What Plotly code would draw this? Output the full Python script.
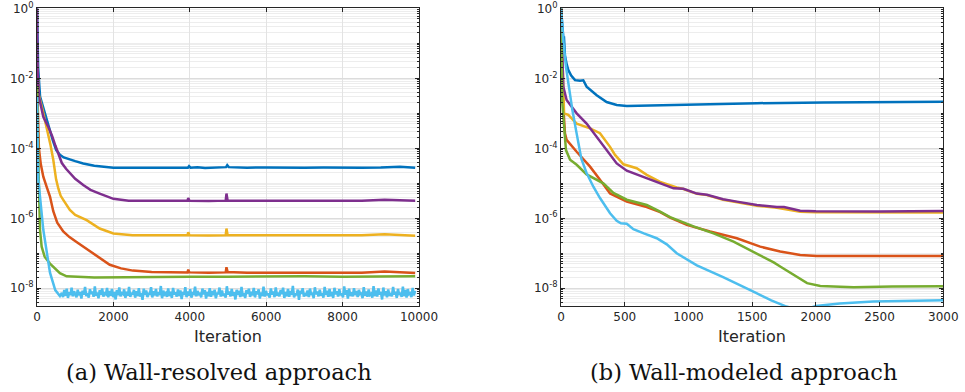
import numpy as np
import plotly.graph_objects as go

# ---------------- (a) Wall-resolved approach ----------------
wr_blue_it = [0, 30, 80, 200, 340, 420, 500, 600, 700, 850, 1000, 1210, 1500, 2000, 2500, 3000, 3500, 3950, 3980,
              4020, 4200, 4400, 4950, 4980, 5020, 5500, 6000, 6500, 7000, 7500, 8000, 8500, 9000, 9500, 9900]
wr_blue = [1.0, 2e-2, 3e-3, 1e-3, 3.3e-4, 1.6e-4, 9e-5, 6.5e-5, 5.5e-5, 4.8e-5, 4.3e-5, 3.7e-5, 3.2e-5, 2.8e-5,
           2.8e-5, 2.75e-5, 2.8e-5, 2.8e-5, 3.1e-5, 2.8e-5, 2.9e-5, 2.75e-5, 2.9e-5, 3.3e-5, 2.9e-5, 2.8e-5, 2.85e-5,
           2.8e-5, 2.8e-5, 2.85e-5, 2.8e-5, 2.8e-5, 2.85e-5, 3.0e-5, 2.8e-5]

wr_orange_it = [0, 30, 50, 100, 165, 253, 340, 426, 530, 687, 850, 1035, 1250, 1470, 1700, 1905, 2200, 2513, 3000,
                3500, 3940, 3960, 3990, 4500, 4940, 4960, 4990, 5500, 6500, 7500, 8500, 9100, 9900]
wr_orange = [1e-2, 2e-4, 1e-4, 3.5e-5, 1.55e-5, 7.9e-6, 4.2e-6, 1.6e-6, 7.5e-7, 4.2e-7, 2.9e-7, 2.1e-7, 1.45e-7,
             1.0e-7, 6.5e-8, 4.7e-8, 3.7e-8, 3.2e-8, 2.9e-8, 2.8e-8, 2.85e-8, 3.4e-8, 2.85e-8, 2.8e-8, 2.85e-8,
             4.0e-8, 2.9e-8, 2.8e-8, 2.85e-8, 2.8e-8, 2.8e-8, 3.0e-8, 2.75e-8]

wr_yellow_it = [0, 50, 150, 253, 350, 426, 500, 560, 620, 700, 760, 860, 1000, 1300, 1640, 2000, 2500, 3000, 3500,
                3940, 3960, 3990, 4500, 4940, 4960, 4990, 5500, 6500, 7500, 8500, 9100, 9900]
wr_yellow = [3e-2, 3.3e-3, 1.2e-3, 4.2e-4, 1.3e-4, 4.7e-5, 1.3e-5, 7e-6, 4.4e-6, 3.2e-6, 2.6e-6, 1.74e-6, 1.25e-6,
             8.9e-7, 5.1e-7, 3.7e-7, 3.3e-7, 3.25e-7, 3.3e-7, 3.3e-7, 4.0e-7, 3.3e-7, 3.25e-7, 3.3e-7, 5.1e-7,
             3.3e-7, 3.3e-7, 3.25e-7, 3.3e-7, 3.3e-7, 3.5e-7, 3.2e-7]

wr_purple_it = [0, 15, 50, 165, 300, 400, 480, 560, 650, 760, 860, 1000, 1210, 1400, 1640, 2000, 2400, 3000, 3500,
                3940, 3960, 3990, 4500, 4940, 4960, 4990, 5500, 6500, 7500, 8500, 9100, 9900]
wr_purple = [1.0, 2e-2, 3e-3, 8e-4, 4e-4, 2.2e-4, 1.2e-4, 6.5e-5, 3.8e-5, 2.6e-5, 1.95e-5, 1.35e-5, 8.9e-6, 6.5e-6,
             5.1e-6, 3.6e-6, 3.2e-6, 3.15e-6, 3.2e-6, 3.2e-6, 3.8e-6, 3.2e-6, 3.15e-6, 3.2e-6, 5.1e-6, 3.2e-6,
             3.2e-6, 3.15e-6, 3.2e-6, 3.2e-6, 3.4e-6, 3.2e-6]

wr_green_it = [0, 20, 45, 78, 122, 200, 340, 600, 775, 1500, 2200, 3000, 4000, 5000, 6000, 7000, 8000, 9000, 9900]
wr_green = [6e-3, 2e-4, 1.5e-5, 4.7e-7, 1.55e-7, 8e-8, 5.1e-8, 2.7e-8, 2.2e-8, 2.05e-8, 2.1e-8, 2.15e-8, 2.15e-8,
            2.15e-8, 2.2e-8, 2.2e-8, 2.15e-8, 2.2e-8, 2.2e-8]

wr_lblue_head_it = [0, 35, 165, 340, 478, 600]
wr_lblue_head = [3e-3, 1.26e-5, 4.7e-7, 2.8e-8, 8.9e-9, 6.0e-9]
wr_lblue_tail_start = 650
wr_lblue_tail_step = 32
wr_lblue_tail = [
    7.4e-9, 5.6e-9, 8.9e-9, 6.1e-9, 9.8e-9, 5.3e-9, 7.7e-9, 6.4e-9, 10.4e-9, 5.9e-9, 8.2e-9, 6.8e-9, 5.5e-9, 9.1e-9, 6.3e-9, 7.9e-9, 5.1e-9, 8.6e-9, 6.6e-9, 10.9e-9,
    6.0e-9, 7.3e-9, 5.4e-9, 9.4e-9, 6.9e-9, 8.1e-9, 5.7e-9, 11.3e-9, 6.2e-9, 7.6e-9, 5.2e-9, 8.8e-9, 6.5e-9, 9.9e-9, 5.8e-9, 7.1e-9, 6.7e-9, 10.2e-9, 5.5e-9, 8.4e-9,
    6.1e-9, 9.6e-9, 5.6e-9, 7.8e-9, 4.8e-9, 8.9e-9, 6.4e-9, 10.6e-9, 5.9e-9, 7.2e-9, 6.8e-9, 9.3e-9, 5.3e-9, 8.0e-9, 6.2e-9, 11.0e-9, 5.7e-9, 7.5e-9, 6.6e-9, 9.0e-9,
    5.4e-9, 8.3e-9, 6.0e-9, 10.1e-9, 5.8e-9, 7.4e-9, 4.7e-9, 9.7e-9, 6.5e-9, 8.6e-9, 5.6e-9, 7.0e-9, 6.9e-9, 10.7e-9, 5.5e-9, 8.2e-9, 6.3e-9, 9.5e-9, 5.9e-9, 7.7e-9,
    6.4e-9, 11.6e-9, 5.2e-9, 8.5e-9, 6.7e-9, 7.3e-9, 5.7e-9, 9.9e-9, 6.1e-9, 8.0e-9, 5.3e-9, 10.3e-9, 6.6e-9, 7.6e-9, 5.8e-9, 9.2e-9, 6.0e-9, 8.7e-9, 4.9e-9, 7.9e-9,
    6.5e-9, 10.8e-9, 5.6e-9, 8.1e-9, 6.2e-9, 9.4e-9, 5.4e-9, 7.2e-9, 6.9e-9, 11.1e-9, 5.9e-9, 8.4e-9, 6.3e-9, 7.5e-9, 5.5e-9, 9.8e-9, 6.7e-9, 8.9e-9, 5.1e-9, 7.8e-9,
    6.0e-9, 10.0e-9, 5.7e-9, 8.3e-9, 6.4e-9, 9.1e-9, 5.2e-9, 7.4e-9, 6.8e-9, 10.5e-9, 5.8e-9, 8.6e-9, 6.1e-9, 7.1e-9, 5.4e-9, 11.4e-9, 6.6e-9, 8.0e-9, 5.9e-9, 9.6e-9,
    6.2e-9, 7.7e-9, 4.8e-9, 9.0e-9, 6.5e-9, 8.5e-9, 5.6e-9, 10.9e-9, 6.0e-9, 7.3e-9, 5.3e-9, 8.8e-9, 6.9e-9, 9.7e-9, 5.7e-9, 7.9e-9, 6.3e-9, 10.2e-9, 5.5e-9, 8.2e-9,
    6.7e-9, 9.3e-9, 5.1e-9, 7.6e-9, 6.1e-9, 11.2e-9, 5.8e-9, 8.4e-9, 6.4e-9, 7.0e-9, 5.4e-9, 9.9e-9, 6.6e-9, 8.1e-9, 5.6e-9, 10.6e-9, 6.2e-9, 7.5e-9, 5.9e-9, 8.9e-9,
    6.8e-9, 10.4e-9, 5.3e-9, 7.8e-9, 6.0e-9, 9.5e-9, 5.7e-9, 8.3e-9, 6.5e-9, 11.7e-9, 5.5e-9, 7.2e-9, 6.3e-9, 9.2e-9, 4.7e-9, 8.6e-9, 6.9e-9, 10.0e-9, 5.8e-9, 7.4e-9,
    6.1e-9, 8.7e-9, 5.6e-9, 9.8e-9, 6.4e-9, 7.6e-9, 5.2e-9, 10.7e-9, 6.7e-9, 8.0e-9, 5.9e-9, 9.1e-9, 6.2e-9, 7.3e-9, 5.4e-9, 11.0e-9, 6.5e-9, 8.5e-9, 5.7e-9, 9.6e-9,
    6.0e-9, 7.9e-9, 5.3e-9, 10.3e-9, 6.8e-9, 8.2e-9, 5.8e-9, 9.4e-9, 6.3e-9, 7.1e-9, 5.5e-9, 11.3e-9, 6.6e-9, 8.8e-9, 5.1e-9, 9.7e-9, 6.1e-9, 7.7e-9, 5.9e-9, 10.1e-9,
    6.4e-9, 8.4e-9, 5.6e-9, 9.0e-9, 6.9e-9, 7.5e-9, 5.2e-9, 10.8e-9, 6.2e-9, 8.1e-9, 5.7e-9, 9.3e-9, 6.5e-9, 7.0e-9, 5.4e-9, 11.5e-9, 6.0e-9, 8.6e-9, 5.8e-9, 9.9e-9,
    6.7e-9, 7.8e-9, 4.8e-9, 10.5e-9, 6.3e-9, 8.3e-9, 5.5e-9, 9.2e-9, 6.1e-9, 7.4e-9, 5.9e-9, 10.9e-9, 6.6e-9, 8.0e-9, 5.3e-9, 9.6e-9, 6.4e-9, 7.6e-9, 5.7e-9, 11.1e-9,
    6.0e-9, 8.9e-9, 5.4e-9, 9.5e-9, 6.8e-9, 7.2e-9, 5.6e-9, 10.2e-9, 6.2e-9, 8.5e-9]

# ---------------- (b) Wall-modeled approach ----------------
wm_blue_it = [0, 8, 13, 18, 23, 28, 31, 45, 57, 80, 110, 149, 175, 201, 280, 358, 437, 516, 751, 1000, 1537, 2061,
              2500, 3000]
wm_blue = [1.0, 0.35, 0.24, 0.15, 0.16, 0.06, 0.045, 0.025, 0.0174, 0.012, 0.0089, 0.0085, 0.0088, 0.0058, 0.0033,
           0.0021, 0.00174, 0.00162, 0.0017, 0.00178, 0.00195, 0.00204, 0.0021, 0.00214]

wm_orange_it = [0, 10, 31, 44, 123, 228, 306, 385, 516, 673, 778, 856, 987, 1170, 1380, 1563, 1720, 1877, 2008,
                2500, 3000]
wm_orange = [1.0, 5e-3, 2.7e-4, 1.74e-4, 8e-5, 3e-5, 1.26e-5, 5.1e-6, 3.0e-6, 2.1e-6, 1.5e-6, 1.05e-6, 6.5e-7,
             4.2e-7, 2.7e-7, 1.55e-7, 1.12e-7, 9e-8, 8.4e-8, 8.3e-8, 8.4e-8]

wm_yellow_it = [0, 10, 24, 57, 123, 228, 306, 385, 424, 490, 594, 673, 778, 908, 961, 1066, 1145, 1272, 1380, 1537,
                1694, 1877, 2000, 2500, 3000]
wm_yellow = [1.0, 0.05, 1e-3, 9e-4, 5.1e-4, 3.7e-4, 2.7e-4, 1.1e-4, 6.5e-5, 3.5e-5, 2.7e-5, 1.74e-5, 1.1e-5, 7.6e-6,
             6.9e-6, 5.0e-6, 4.6e-6, 3.4e-6, 2.9e-6, 2.3e-6, 2.0e-6, 1.55e-6, 1.48e-6, 1.45e-6, 1.47e-6]

wm_purple_it = [0, 10, 18, 44, 123, 201, 280, 358, 437, 516, 646, 883, 961, 1066, 1145, 1272, 1380, 1537, 1694,
                1750, 1877, 2000, 2500, 3000]
wm_purple = [1.0, 0.1, 5.8e-3, 2.4e-3, 1e-3, 5.1e-4, 2.1e-4, 8.9e-5, 3.7e-5, 2.3e-5, 1.55e-5, 7.2e-6, 7.0e-6, 5.1e-6,
             4.7e-6, 3.5e-6, 3.0e-6, 2.4e-6, 2.1e-6, 2.1e-6, 1.65e-6, 1.58e-6, 1.57e-6, 1.62e-6]

wm_green_it = [0, 10, 39, 71, 123, 201, 332, 411, 516, 673, 778, 856, 1040, 1197, 1354, 1510, 1563, 1669, 1720,
               1826, 1931, 2035, 2296, 2600, 3000]
wm_green = [1.0, 2e-3, 8.9e-5, 4.7e-5, 3.4e-5, 1.8e-5, 1.0e-5, 5.3e-6, 3.4e-6, 2.4e-6, 1.55e-6, 1.08e-6, 5.9e-7,
            3.7e-7, 2.15e-7, 1.12e-7, 8.5e-8, 5.5e-8, 4.2e-8, 2.4e-8, 1.4e-8, 1.17e-8, 1.07e-8, 1.12e-8, 1.15e-8]

wm_lblue_it = [0, 20, 40, 60, 90, 120, 160, 200, 254, 306, 385, 437, 470, 516, 568, 650, 751, 830, 908, 1066, 1272,
               1510, 1650, 1760, 1880, 2000, 2188, 2450, 2700, 3000]
wm_lblue = [1.0, 0.1, 2e-2, 6e-3, 1.2e-3, 3e-4, 5e-5, 2e-5, 8e-6, 3.8e-6, 1.4e-6, 8.5e-7, 7.2e-7, 7.0e-7, 4.9e-7,
            3.7e-7, 2.7e-7, 1.8e-7, 1.0e-7, 4.5e-8, 2.1e-8, 8e-9, 4.5e-9, 3.1e-9, 2.3e-9, 3.1e-9, 3.7e-9, 4.2e-9,
            4.45e-9, 4.55e-9]

y_tickvals = [1, 1e-2, 1e-4, 1e-6, 1e-8]
y_ticktext = ["10<sup>0</sup>", "10<sup>-2</sup>", "10<sup>-4</sup>", "10<sup>-6</sup>", "10<sup>-8</sup>"]
wr_xticks = [0, 2000, 4000, 6000, 8000, 10000]
wr_xticktext = ["0", "2000", "4000", "6000", "8000", "10000"]
wm_xticks = [0, 500, 1000, 1500, 2000, 2500, 3000]
wm_xticktext = ["0", "500", "1000", "1500", "2000", "2500", "3000"]

colors = ["#0072BD", "#D95319", "#EDB120", "#7E2F8E", "#77AC30", "#4DBEEE"]

wr_lblue_it = wr_lblue_head_it + [wr_lblue_tail_start + wr_lblue_tail_step * i for i in range(len(wr_lblue_tail))]
wr_lblue = wr_lblue_head + wr_lblue_tail

left = [(wr_blue_it, wr_blue), (wr_orange_it, wr_orange), (wr_yellow_it, wr_yellow),
        (wr_purple_it, wr_purple), (wr_green_it, wr_green), (wr_lblue_it, wr_lblue)]
right = [(wm_blue_it, wm_blue), (wm_orange_it, wm_orange), (wm_yellow_it, wm_yellow),
         (wm_purple_it, wm_purple), (wm_green_it, wm_green), (wm_lblue_it, wm_lblue)]

fig = go.Figure()
for (xs, ys), c in zip(left, colors):
    fig.add_trace(go.Scatter(x=xs, y=ys, mode="lines", line=dict(color=c, width=2.5),
                             xaxis="x", yaxis="y", showlegend=False))
for (xs, ys), c in zip(right, colors):
    fig.add_trace(go.Scatter(x=xs, y=ys, mode="lines", line=dict(color=c, width=2.5),
                             xaxis="x2", yaxis="y2", showlegend=False))

minor_vals = []
for k in range(-9, 0):
    for m in range(1, 10):
        v = m * 10.0 ** k
        if m == 1 and k % 2 == 0:
            continue
        minor_vals.append(v)

W, H = 965, 392
top_px, bot_px = 8.3, 306.0
ydom = [1 - bot_px / H, 1 - top_px / H]
axis_font = dict(family="DejaVu Sans", size=12, color="#262626")

common_x = dict(showline=True, linecolor="#262626", linewidth=1, mirror="ticks", ticks="inside", ticklen=4,
                tickcolor="#262626", showgrid=True, gridcolor="#e3e3e3", gridwidth=1, zeroline=False,
                tickfont=axis_font, ticklabeloverflow="allow", automargin=False)
common_y = dict(type="log", range=[-8.506, 0.002], tickvals=y_tickvals, ticktext=y_ticktext, showline=True,
                linecolor="#262626", linewidth=1, mirror="ticks", ticks="inside", ticklen=4, tickcolor="#262626",
                showgrid=True, gridcolor="#dcdcdc", gridwidth=1, zeroline=False, tickfont=axis_font,
                ticklabeloverflow="allow", automargin=False,
                minor=dict(tickvals=minor_vals, showgrid=True, gridcolor="#ededed", gridwidth=1,
                           ticks="inside", ticklen=2, tickcolor="#262626"))

fig.update_layout(
    width=W, height=H, margin=dict(l=0, r=0, t=0, b=0, autoexpand=False), paper_bgcolor="white",
    plot_bgcolor="white",
    xaxis=dict(domain=[37 / W, 419 / W], range=[0, 10000], tickvals=wr_xticks, ticktext=wr_xticktext,
               anchor="y", **common_x),
    yaxis=dict(domain=ydom, anchor="x", **common_y),
    xaxis2=dict(domain=[561 / W, 943.3 / W], range=[0, 3000], tickvals=wm_xticks, ticktext=wm_xticktext,
                anchor="y2", **common_x),
    yaxis2=dict(domain=ydom, anchor="x2", **common_y),
)

annots = [
    dict(text="Iteration", x=228 / W, y=1 - 336 / H, font=dict(family="DejaVu Sans", size=16, color="#262626")),
    dict(text="Iteration", x=752 / W, y=1 - 336 / H, font=dict(family="DejaVu Sans", size=16, color="#262626")),
    dict(text="(a) Wall-resolved approach", x=219 / W, y=1 - 372 / H,
         font=dict(family="DejaVu Serif", size=22.5, color="#111111")),
    dict(text="(b) Wall-modeled approach", x=743 / W, y=1 - 372 / H,
         font=dict(family="DejaVu Serif", size=22.5, color="#111111")),
]
for a in annots:
    fig.add_annotation(xref="paper", yref="paper", showarrow=False, xanchor="center", yanchor="middle", **a)

fig.write_html("out.html")
